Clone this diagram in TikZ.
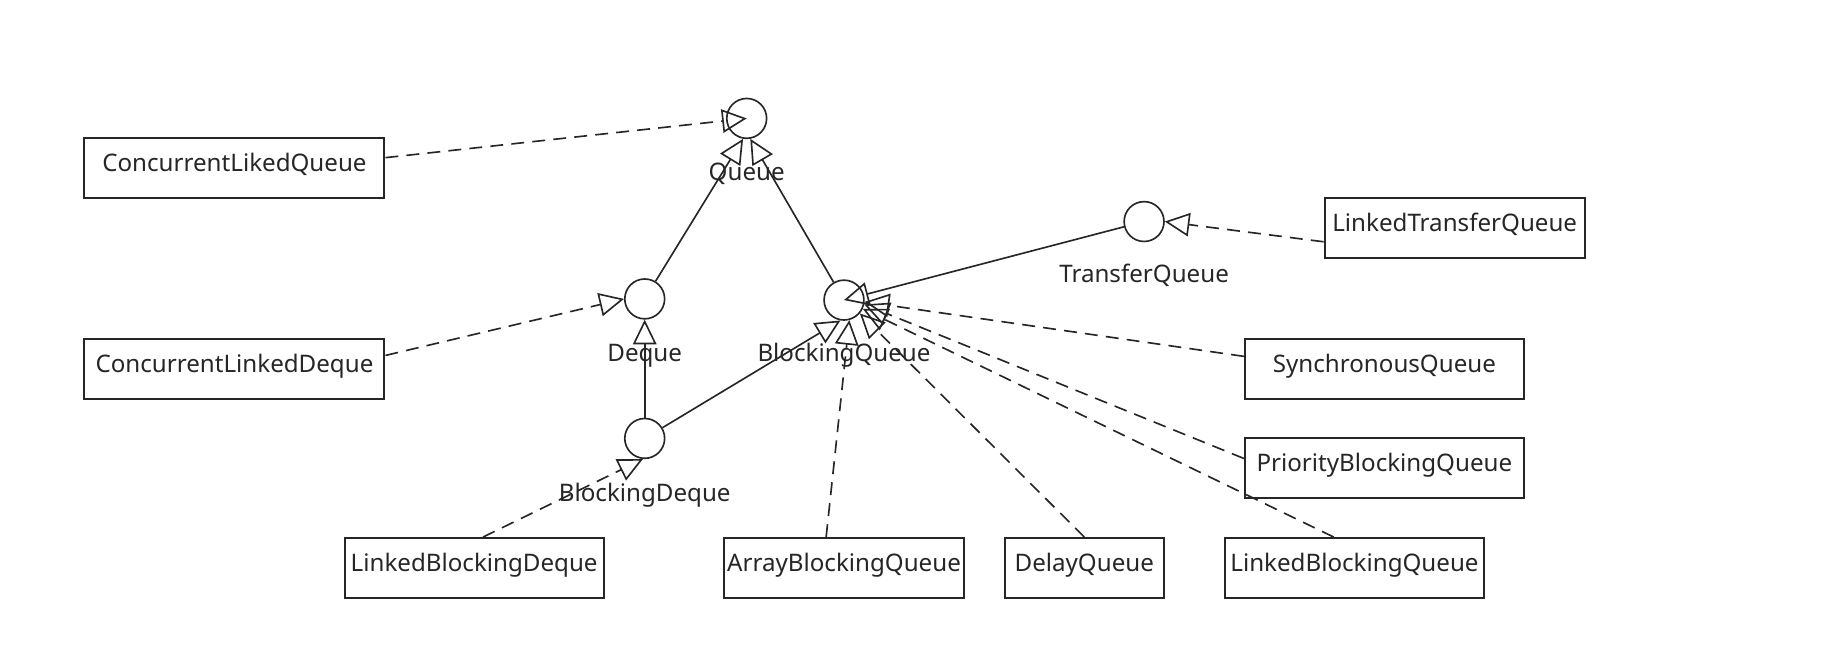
\documentclass[tikz,border=0pt]{standalone}
\usepackage{fontspec}
\setmainfont{Noto Sans}
\usetikzlibrary{arrows.meta}
\begin{document}
\begin{tikzpicture}[x=0.5pt,y=-0.5pt,
  txt/.style={font=\fontsize{10.3}{12}\selectfont, text=black!85},
  cls/.style={txt, draw=black!85, line width=0.85pt, rectangle, minimum height=25.5pt, inner sep=0pt, text height=7.4pt, text depth=4.5pt},
  iface/.style={draw=black!85, line width=0.7pt, circle, minimum size=17pt, inner sep=0pt},
  lbl/.style={txt, anchor=base, inner sep=0pt},
  real/.style={line width=0.7pt, draw=black!85, -{Triangle[open, length=10.5pt, width=10pt]}},
  impl/.style={real, dash pattern=on 5.5pt off 3.5pt},
]
\useasboundingbox (0,0) rectangle (1568,568);

% interfaces
\node[iface] (queue) at (637,101) {};
\node[iface] (deque) at (550,255) {};
\node[iface] (bq) at (720,256) {};
\node[iface] (bd) at (550,374) {};
\node[iface] (tq) at (976,189) {};

\node[lbl] (queueL) at ([yshift=-26.7pt]queue.center) {Queue};
\node[lbl] (dequeL) at ([yshift=-26.7pt]deque.center) {Deque};
\node[lbl] (bqL) at ([yshift=-26.2pt]bq.center) {BlockingQueue};
\node[lbl] (bdL) at ([yshift=-26.7pt]bd.center) {BlockingDeque};
\node[lbl] (tqL) at ([yshift=-26.2pt]tq.center) {TransferQueue};

% classes
\node[cls, minimum width=128pt] (clq) at (200,143.5) {ConcurrentLikedQueue};
\node[cls, minimum width=128pt] (cld) at (200,314.5) {ConcurrentLinkedDeque};
\node[cls, minimum width=111pt] (ltq) at (1241,194.5) {LinkedTransferQueue};
\node[cls, minimum width=119pt] (sq) at (1181,314.5) {SynchronousQueue};
\node[cls, minimum width=119pt] (pbq) at (1181,399.5) {PriorityBlockingQueue};
\node[cls, minimum width=110.5pt] (lbd) at (404.5,484.5) {LinkedBlockingDeque};
\node[cls, minimum width=102pt] (abq) at (720,484.5) {ArrayBlockingQueue};
\node[cls, minimum width=68pt] (dq) at (925,484.5) {DelayQueue};
\node[cls, minimum width=110.5pt] (lbq) at (1155.5,484.5) {LinkedBlockingQueue};

% connectors
\draw[impl] (clq.4) -- (queue.center);
\draw[real] (deque) -- (queue.-100);
\draw[real] (bq) -- (queue.-80);
\draw[impl] (cld.5) -- (deque.west);
\draw[real] (bd) -- (deque);
\draw[impl] (lbd.74) -- (bd.-95);
\draw[real] (bd) -- (bq.-100);
\draw[real] (tq) -- (bq.center);
\draw[impl] (ltq.186) -- (tq.east);
\draw[impl] (sq.175) -- (bq.-5);
\draw[impl] (pbq.176) -- (bq.-12);
\draw[impl] (lbq.124) -- (bq.-25);
\draw[impl] (dq.north) -- (bq.-40);
\draw[impl] (abq.120) -- (bq.-75);
\end{tikzpicture}
\end{document}
